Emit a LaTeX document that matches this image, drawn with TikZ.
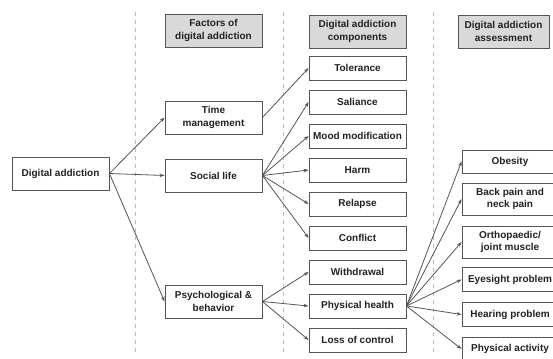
\documentclass[tikz,border=0pt]{standalone}
\usepackage{fontspec}
\setmainfont{Liberation Sans}
\usetikzlibrary{arrows.meta}
\definecolor{boxline}{HTML}{555555}
\definecolor{hdrfill}{HTML}{D9D9D9}
\definecolor{txt}{HTML}{222222}
\definecolor{sep}{HTML}{BBBBBB}
\begin{document}
\begin{tikzpicture}[x=1pt,y=-1pt,
  basebox/.style={draw=boxline, line width=0.9pt, text=txt, font=\bfseries\fontsize{10}{12.5}\selectfont, align=center, inner sep=0pt, anchor=center},
  hdr/.style={basebox, fill=hdrfill, minimum width=97pt, minimum height=33pt},
  item/.style={basebox, fill=white, minimum width=97pt, minimum height=24pt},
  tall/.style={basebox, fill=white, minimum width=97pt, minimum height=33pt},
  conn/.style={draw=boxline, line width=0.8pt, -{Stealth[length=5pt,width=3.6pt]}},
  sepline/.style={draw=sep, line width=0.8pt, dash pattern=on 4pt off 4pt}]
\useasboundingbox (0,0) rectangle (553,358);
\clip (0,0) rectangle (553,358);
% separators
\coordinate (s1t) at (135,12); \coordinate (s1b) at (135,354);
\coordinate (s2t) at (283,12); \coordinate (s2b) at (283,354);
\coordinate (s3t) at (433,12); \coordinate (s3b) at (433,354);
\draw[sepline] (s1t) -- (s1b);
\draw[sepline] (s2t) -- (s2b);
\draw[sepline] (s3t) -- (s3b);
% column 1
\node[tall] (da) at (60.5,173.5) {Digital addiction};
% column 2
\node[hdr] (h2) at (213.5,30.5) {Factors of\\digital addiction};
\node[tall] (tm) at (213.5,117.5) {Time\\management};
\node[tall] (sl) at (213.5,175.5) {Social life};
\node[tall] (pb) at (213.5,301.5) {Psychological \&\\behavior};
% column 3
\node[hdr] (h3) at (357.5,31.5) {Digital addiction\\components};
\node[item] (tol) at (357.5,68) {Tolerance};
\node[item] (sal) at (357.5,102) {Saliance};
\node[item] (mood) at (357.5,136) {Mood modification};
\node[item] (harm) at (357.5,170) {Harm};
\node[item] (rel) at (357.5,204) {Relapse};
\node[item] (con) at (357.5,238) {Conflict};
\node[item] (wd) at (357.5,272) {Withdrawal};
\node[item] (ph) at (357.5,306) {Physical health};
\node[item] (loc) at (357.5,340) {Loss of control};
% column 4
\node[hdr, minimum width=91pt] (h4) at (503.5,31.5) {Digital addiction\\assessment};
\node[item, minimum width=96pt, minimum height=23pt] (ob) at (510,161.5) {Obesity};
\node[tall, minimum width=96pt, minimum height=32pt] (bp) at (510,199) {Back pain and\\neck pain};
\node[tall, minimum width=96pt, minimum height=32pt] (oj) at (510,242) {Orthopaedic/\\joint muscle};
\node[item, minimum width=96pt] (ey) at (510,279.5) {Eyesight problem};
\node[item, minimum width=96pt] (hp) at (510,314.5) {Hearing problem};
\node[item, minimum width=96pt] (pa) at (510,349) {Physical activity};
% connectors
\draw[conn] (da.east) -- (tm.west);
\draw[conn] (da.east) -- (sl.west);
\draw[conn] (da.east) -- (pb.west);
\draw[conn] (tm.east) -- (tol.west);
\foreach \t in {sal,mood,harm,rel,con} \draw[conn] (sl.east) -- (\t.west);
\foreach \t in {wd,ph,loc} \draw[conn] (pb.east) -- (\t.west);
\foreach \t in {ob,bp,oj,ey,hp,pa} \draw[conn] (ph.east) -- (\t.west);
\end{tikzpicture}
\end{document}
